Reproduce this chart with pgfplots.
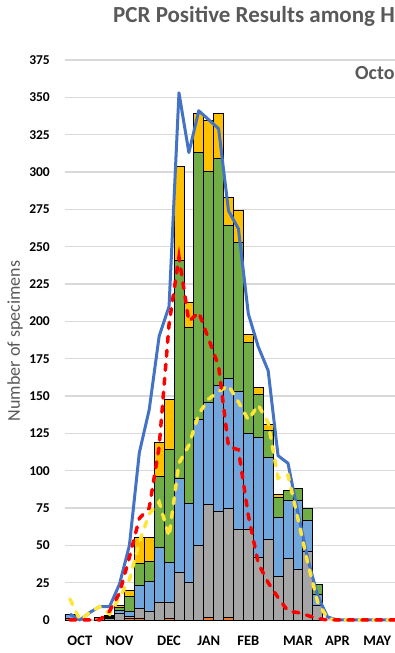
\documentclass[border=0pt]{standalone}
\usepackage{pgfplots}
\pgfplotsset{compat=1.18}
\usepackage{pgfplotstable}
\usepackage{fontspec}
\setmainfont{Carlito}
\definecolor{cgold}{HTML}{FFC000}
\definecolor{cgreen}{HTML}{70AD47}
\definecolor{cblue}{HTML}{70A6DB}
\definecolor{cgrey}{HTML}{A5A5A5}
\definecolor{corange}{HTML}{ED7D31}
\definecolor{cline}{HTML}{4472C4}
\definecolor{cred}{HTML}{FF0000}
\definecolor{cyel}{HTML}{FFE535}
\definecolor{cgrid}{HTML}{D9D9D9}
\definecolor{ctitle}{HTML}{595959}

\pgfplotstableread{
k o g b gr y
0 1 0 3 0 0
3 1.5 0 0 0 0
4 0 1 1 0.5 0.5
5 0 4.5 2 2 1
6 1 1.5 3 10 4.5
7 1 7 15 15 17
8 0 6 20 13 16
9 0 12 36.5 47.5 23
10 1 11 26.5 76 33
11 0 32 63 146 63
12 0 25 53 118 17
13 0 50 84 179 26
14 1.5 76 68 155 34
15 0 73 84 152 30
16 1.5 73 87 103 18.5
17 0 61 92 100 21
18 0 61 64 61 5
19 0 42 80 29 5
20 0 54 55 18 4
21 0 29 40 13 2
22 0 41 39 6.5 0
23 0 34 46 8 0
24 0 46 21 8 0
25 0 10 7 7 0
}\bars

\pgfplotstableread{
k bl rd ye
0 4 0 14
1 0 0 0
2 5 0 5
3 9 0 9
4 9 6 4
5 24 18 15
6 50 42 27
7 112 68 52
8 141 75 71
9 190 116 79
10 210 198 56
11 353 243 105
12 313 200 117
13 341 206 138
14 335 188 148
15 329 170 153
16 274 116 157
17 262 114 146
18 205 70 134
19 183 38 144
20 167 25 132
21 110 15 95
22 105 6 97
23 72 5 68
24 41 3 38
25 16 1 12
26 2 0 1
27 0 0 0
28 0 0 0
29 0 0 0
30 0 0 0
31 0 0 0
32 0 0 0
33 0 0 0
34 0 0 0
35 0 0 0
}\lines

\begin{document}
\begin{tikzpicture}
\useasboundingbox (0,0) rectangle (395pt,653pt);
\clip (0,0) rectangle (395pt,653pt);
\begin{axis}[
  at={(65pt,33pt)}, anchor=south west,
  scale only axis, width=346.85pt, height=560pt,
  xmin=-0.5, xmax=34.5, ymin=0, ymax=375,
  enlargelimits=false,
  axis line style={draw=none},
  major tick length=0pt,
  ytick={0,25,...,375},
  xtick={1,5,10,14,18,23,27,31},
  xticklabels={OCT,NOV,DEC,JAN,FEB,MAR,APR,MAY},
  ymajorgrids, grid style={draw=cgrid, line width=1.2pt},
  yticklabel style={font=\fontsize{13.5}{15}\selectfont\bfseries, anchor=east, inner sep=0pt, xshift=-15pt},
  xticklabel style={font=\fontsize{14.5}{16}\selectfont\bfseries, anchor=north, inner sep=0pt, yshift=-16pt},
  /pgf/number format/assume math mode=true,
  ybar stacked, bar width=1,
  clip=false,
]
\addplot[fill=corange, draw=black, line width=0.8pt] table[x=k,y=o]{\bars};
\addplot[fill=cgrey, draw=black, line width=0.8pt] table[x=k,y=g]{\bars};
\addplot[fill=cblue, draw=black, line width=0.8pt] table[x=k,y=b]{\bars};
\addplot[fill=cgreen, draw=black, line width=0.8pt] table[x=k,y=gr]{\bars};
\addplot[fill=cgold, draw=black, line width=0.8pt] table[x=k,y=y]{\bars};
\end{axis}
\begin{axis}[
  at={(65pt,33pt)}, anchor=south west,
  scale only axis, width=346.85pt, height=560pt,
  xmin=-0.5, xmax=34.5, ymin=0, ymax=375,
  enlargelimits=false, hide axis, clip=false,
]
\addplot[cline, line width=3pt, line join=round, mark=none] table[x=k,y=bl]{\lines};
\addplot[cyel, line width=3.5pt, dash pattern=on 6pt off 8pt, line cap=round, mark=none] table[x=k,y=ye]{\lines};
\addplot[cred, line width=3.5pt, dash pattern=on 6pt off 8pt, line cap=round, mark=none] table[x=k,y=rd]{\lines};
\end{axis}
\node[anchor=base west, inner sep=0pt, text=ctitle, font=\fontsize{23}{26}\selectfont\bfseries] at (113pt,630pt) {PCR Positive Results among Hospitalized Patients};
\node[anchor=base west, inner sep=0pt, text=ctitle, font=\fontsize{20}{24}\selectfont\bfseries] at (355pt,573pt) {October 2019 -- May 2020};
\node[rotate=90, inner sep=0pt, text=ctitle, font=\fontsize{18}{20}\selectfont] at (15pt,312pt) {Number of specimens};
\end{tikzpicture}
\end{document}
